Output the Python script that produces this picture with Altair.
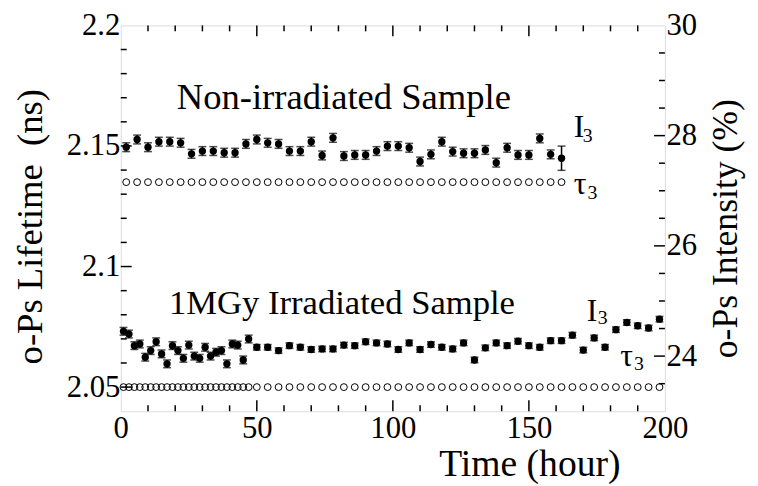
import altair as alt
import pandas as pd

FONT = "Liberation Serif"

# ---------------- data ----------------
# Non-irradiated sample
t_non = [2, 6, 10, 14, 18, 22, 26, 30, 34, 38, 42, 46, 50, 54, 58, 62, 66, 70, 74, 78,
         82, 86, 90, 94, 98, 102, 106, 110, 114, 118, 122, 126, 130, 134, 138, 142,
         146, 150, 154, 158, 162]
I_non = [27.79, 27.93, 27.79, 27.89, 27.89, 27.87, 27.67, 27.72, 27.72, 27.69, 27.69,
         27.85, 27.93, 27.87, 27.85, 27.72, 27.72, 27.89, 27.64, 27.96, 27.63, 27.65,
         27.65, 27.72, 27.81, 27.81, 27.78, 27.53, 27.66, 27.89, 27.71, 27.68, 27.68,
         27.74, 27.51, 27.78, 27.65, 27.65, 27.95, 27.66, 27.59]
I_non_err = [0.08, 0.08, 0.08, 0.08, 0.08, 0.08, 0.08, 0.08, 0.08, 0.08, 0.08, 0.08,
             0.08, 0.08, 0.08, 0.08, 0.08, 0.08, 0.08, 0.08, 0.08, 0.08, 0.08, 0.08,
             0.08, 0.08, 0.08, 0.08, 0.08, 0.08, 0.08, 0.08, 0.08, 0.08, 0.08, 0.08,
             0.08, 0.08, 0.08, 0.08, 0.22]
tau_non = [2.135, 2.135, 2.135, 2.135, 2.135, 2.135, 2.135, 2.135, 2.135, 2.135, 2.135,
           2.135, 2.135, 2.135, 2.135, 2.135, 2.135, 2.135, 2.135, 2.135, 2.135, 2.135,
           2.135, 2.135, 2.135, 2.135, 2.135, 2.135, 2.135, 2.135, 2.135, 2.135, 2.135,
           2.135, 2.135, 2.135, 2.135, 2.135, 2.135, 2.135, 2.135]

# 1MGy irradiated sample
t_irr = [1, 3, 5, 7, 9, 11, 13, 15, 17, 19, 21, 23, 25, 27, 29, 31, 33, 35, 37, 39, 41,
         43, 45, 47,
         50, 54, 58, 62, 66, 70, 74, 78, 82, 86, 90, 94, 98, 102, 106, 110, 114, 118,
         122, 126, 130, 134, 138, 142, 146, 150, 154, 158, 162, 166, 170, 174, 178,
         182, 186, 190, 194, 198]
I_irr = [24.45, 24.40, 24.19, 24.22, 23.98, 24.10, 24.26, 24.04, 23.86, 24.19, 24.10,
         23.96, 24.20, 24.00, 23.96, 24.16, 24.00, 24.07, 24.10, 23.86, 24.22, 24.20,
         23.93, 24.31,
         24.16, 24.16, 24.10, 24.19, 24.16, 24.12, 24.13, 24.13, 24.20, 24.19, 24.26,
         24.24, 24.22, 24.12, 24.24, 24.12, 24.21, 24.16, 24.13, 24.24, 23.93, 24.15,
         24.24, 24.19, 24.27, 24.19, 24.16, 24.28, 24.28, 24.38, 24.11, 24.33, 24.16,
         24.48, 24.61, 24.55, 24.51, 24.67]
I_irr_err = [0.07, 0.07, 0.07, 0.07, 0.07, 0.07, 0.07, 0.07, 0.07, 0.07, 0.07, 0.07,
             0.07, 0.07, 0.07, 0.07, 0.07, 0.07, 0.07, 0.07, 0.07, 0.07, 0.07, 0.07,
             0.05, 0.05, 0.05, 0.05, 0.05, 0.05, 0.05, 0.05, 0.05, 0.05, 0.05, 0.05,
             0.05, 0.05, 0.05, 0.05, 0.05, 0.05, 0.05, 0.05, 0.05, 0.05, 0.05, 0.05,
             0.05, 0.05, 0.05, 0.05, 0.05, 0.05, 0.05, 0.05, 0.05, 0.05, 0.05, 0.05,
             0.05, 0.05]
tau_irr = [2.050, 2.050, 2.050, 2.050, 2.050, 2.050, 2.050, 2.050, 2.050, 2.050, 2.050,
           2.050, 2.050, 2.050, 2.050, 2.050, 2.050, 2.050, 2.050, 2.050, 2.050, 2.050,
           2.050, 2.050,
           2.050, 2.050, 2.050, 2.050, 2.050, 2.050, 2.050, 2.050, 2.050, 2.050, 2.050,
           2.050, 2.050, 2.050, 2.050, 2.050, 2.050, 2.050, 2.050, 2.050, 2.050, 2.050,
           2.050, 2.050, 2.050, 2.050, 2.050, 2.050, 2.050, 2.050, 2.050, 2.050, 2.050,
           2.050, 2.050, 2.050, 2.050, 2.050]

# axis ticks
x_labels = [0, 50, 100, 150, 200]
x_major_ticks = [50, 100, 150]
x_minor_ticks = [10, 20, 30, 40, 60, 70, 80, 90, 110, 120, 130, 140, 160, 170, 180, 190]
left_labels = [2.05, 2.1, 2.15, 2.2]
left_major_ticks = [2.05, 2.1, 2.15]
left_minor_ticks = [2.06, 2.07, 2.08, 2.09, 2.11, 2.12, 2.13, 2.14, 2.16, 2.17, 2.18, 2.19]
right_labels = [24, 26, 28, 30]
right_major_ticks = [24, 26, 28]
right_minor_ticks = [23.5, 24.5, 25, 25.5, 26.5, 27, 27.5, 28.5, 29, 29.5]

W, H = 550, 390
MAJ, MIN = 11, 6

xs = alt.Scale(domain=[0, 200], nice=False, zero=False)
ls = alt.Scale(domain=[2.04, 2.2], nice=False, zero=False)
rs = alt.Scale(domain=[23, 30], nice=False, zero=False)

non = pd.DataFrame({"t": t_non, "I": I_non, "err": I_non_err, "tau": tau_non})
non["lo"] = non["I"] - non["err"]
non["hi"] = non["I"] + non["err"]
irr = pd.DataFrame({"t": t_irr, "I": I_irr, "err": I_irr_err, "tau": tau_irr})
irr["lo"] = irr["I"] - irr["err"]
irr["hi"] = irr["I"] + irr["err"]
tau_all = pd.concat([non[["t", "tau"]], irr[["t", "tau"]]], ignore_index=True)
I_all = pd.concat([non, irr], ignore_index=True)

x_axis = alt.Axis(values=x_labels, format="d", tickSize=0, domain=False, grid=False,
                  labelFlush=False, labelOverlap=False, labelPadding=3,
                  labelFont=FONT, labelFontSize=31, labelColor="black",
                  title="Time (hour)", titleFont=FONT, titleFontSize=38,
                  titleFontWeight="normal", titleColor="black",
                  titleX=413, titleY=65, titleBaseline="alphabetic", titleAlign="center")
left_axis = alt.Axis(orient="left", values=left_labels, format=".3~g", tickSize=0,
                     domain=False, grid=False, labelOverlap=False, labelPadding=1,
                     labelFont=FONT, labelFontSize=31, labelColor="black",
                     title="o-Ps Lifetime\u00a0 (ns)", titleFont=FONT, titleFontSize=37,
                     titleFontWeight="normal", titleColor="black", titleAngle=270,
                     titleX=-80, titleY=203, titleBaseline="alphabetic",
                     titleAlign="center")
right_axis = alt.Axis(orient="right", values=right_labels, format="d", tickSize=0,
                      domain=False, grid=False, labelOverlap=False, labelPadding=1,
                      labelFont=FONT, labelFontSize=31, labelColor="black",
                      title="o-Ps Intensity (%)", titleFont=FONT, titleFontSize=36,
                      titleFontWeight="normal", titleColor="black", titleAngle=270,
                      titleX=72, titleY=205, titleBaseline="alphabetic",
                      titleAlign="center")


def X(field):
    return alt.X(field, scale=xs, axis=x_axis)


def YL(field):
    return alt.Y(field, scale=ls, axis=left_axis)


def YR(field):
    return alt.Y(field, scale=rs, axis=right_axis)


# ---------- left (lifetime) layers ----------
tau_pts = alt.Chart(tau_all).mark_point(shape="circle", filled=False, color="black",
                                         size=48, strokeWidth=1, opacity=1).encode(
    x=X("t:Q"), y=YL("tau:Q"))


def tick_df(vals):
    return pd.DataFrame({"v": vals})


def xticks(vals, L, top):
    y0, y1 = (0, L) if top else (H, H - L)
    return alt.Chart(tick_df(vals)).mark_rule(color="black", strokeWidth=1.5).encode(
        x=X("v:Q"), y=alt.value(y0), y2=alt.value(y1))


def lticks(vals, L):
    return alt.Chart(tick_df(vals)).mark_rule(color="black", strokeWidth=1.5).encode(
        y=YL("v:Q"), x=alt.value(0), x2=alt.value(L))


def rticks(vals, L):
    return alt.Chart(tick_df(vals)).mark_rule(color="black", strokeWidth=1.5).encode(
        y=YR("v:Q"), x=alt.value(W), x2=alt.value(W - L))


def label(text, x, y, size, align="left"):
    return alt.Chart(pd.DataFrame({"x": [x], "y": [y], "s": [text]})).mark_text(
        font=FONT, fontSize=size, color="black", align=align, baseline="alphabetic"
    ).encode(x=X("x:Q"), y=YL("y:Q"), text="s:N")


left = alt.layer(
    tau_pts,
    xticks(x_major_ticks, MAJ, False), xticks(x_minor_ticks, MIN, False),
    xticks(x_major_ticks, MAJ, True), xticks(x_minor_ticks, MIN, True),
    lticks(left_major_ticks, MAJ), lticks(left_minor_ticks, MIN),
    label("Non-irradiated Sample", 82, 2.1655, 37, "center"),
    label("1MGy Irradiated Sample", 81.3, 2.0805, 35, "center"),
    label("I", 166.5, 2.1539, 32), label("3", 169.8, 2.1518, 20),
    label("\u03c4", 166.5, 2.1302, 32), label("3", 171.5, 2.1282, 20),
    label("I", 171.3, 2.0776, 32), label("3", 175.3, 2.0760, 20),
    label("\u03c4", 183.6, 2.0588, 32), label("3", 188.6, 2.0571, 20),
)

# ---------- right (intensity) layers ----------
err_rule = alt.Chart(I_all).mark_rule(color="black", strokeWidth=1.5).encode(
    x=X("t:Q"), y=YR("lo:Q"), y2="hi:Q")
cap_lo = alt.Chart(I_all).mark_tick(orient="horizontal", color="black", size=8,
                                    thickness=1.5).encode(x=X("t:Q"), y=YR("lo:Q"))
cap_hi = alt.Chart(I_all).mark_tick(orient="horizontal", color="black", size=8,
                                    thickness=1.5).encode(x=X("t:Q"), y=YR("hi:Q"))
I_pts = alt.Chart(I_all).mark_point(shape="circle", filled=True, color="black",
                                    size=55, opacity=1).encode(x=X("t:Q"), y=YR("I:Q"))

right = alt.layer(I_pts, err_rule, cap_lo, cap_hi,
                  rticks(right_major_ticks, MAJ), rticks(right_minor_ticks, MIN))

chart = alt.layer(left, right).resolve_scale(y="independent").properties(
    width=W, height=H,
    padding={"left": 114, "top": 15, "right": 86, "bottom": 73},
    autosize=alt.AutoSizeParams(type="none"),
).configure_view(stroke="black", strokeWidth=2).configure(background="white")

chart.save("out.html", embed_options={"renderer": "svg", "actions": False})
